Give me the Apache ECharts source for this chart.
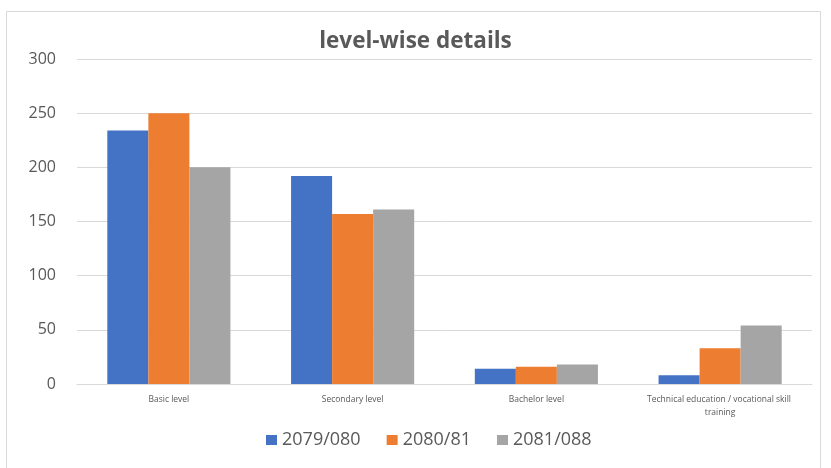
<!DOCTYPE html>
<html>
<head>
<meta charset="utf-8">
<script src="https://cdn.jsdelivr.net/npm/echarts@6/dist/echarts.min.js"></script>
<style>
  html, body { margin: 0; padding: 0; background: #fff; }
  #chart { width: 831px; height: 468px; }
</style>
</head>
<body>
<div id="chart"></div>
<script>
var categories = ['Basic level', 'Secondary level', 'Bachelor level', 'Technical education / vocational skill training'];
var seriesNames = ['2079/080', '2080/81', '2081/088'];
var values2079 = [234, 192, 14, 8];
var values2080 = [250, 157, 16, 33];
var values2081 = [200, 161, 18, 54];
var yTicks = [0, 50, 100, 150, 200, 250, 300];

var colors = ['#4472C4', '#ED7D31', '#A5A5A5'];
var textColor = '#595959';
var font = '"Open Sans", "Noto Sans", sans-serif';

var chart = echarts.init(document.getElementById('chart'));

var option = {
  animation: false,
  backgroundColor: '#fff',
  color: colors,
  graphic: [{
    type: 'rect',
    shape: { x: 6.5, y: 11.5, width: 814, height: 470 },
    style: { fill: 'none', stroke: '#d9d9d9', lineWidth: 1 },
    silent: true
  }],
  title: {
    text: 'level-wise details',
    left: 'center',
    top: 25,
    textStyle: { fontFamily: font, fontSize: 22.5, fontWeight: 'bold', color: textColor }
  },
  legend: {
    data: seriesNames,
    bottom: 14,
    left: 261,
    itemWidth: 11,
    itemHeight: 10,
    itemGap: 26,
    icon: 'rect',
    textStyle: { fontFamily: font, fontSize: 18, color: textColor, padding: [0, 0, 0, 0] }
  },
  grid: { left: 77, right: 19, top: 59, bottom: 84 },
  xAxis: {
    type: 'category',
    data: categories,
    axisLine: { lineStyle: { color: '#d9d9d9' } },
    axisTick: { show: false },
    axisLabel: {
      interval: 0,
      margin: 9,
      width: 168,
      overflow: 'break',
      fontFamily: font,
      fontSize: 8.5,
      lineHeight: 13,
      color: textColor
    }
  },
  yAxis: {
    type: 'value',
    min: yTicks[0],
    max: yTicks[yTicks.length - 1],
    interval: 50,
    axisLine: { show: false },
    axisTick: { show: false },
    splitLine: { lineStyle: { color: '#d9d9d9', width: 1 } },
    axisLabel: { margin: 21, fontFamily: font, fontSize: 16, color: textColor }
  },
  series: [
    { name: seriesNames[0], type: 'bar', data: values2079, barGap: '0%', barCategoryGap: '33%' },
    { name: seriesNames[1], type: 'bar', data: values2080, barGap: '0%', barCategoryGap: '33%' },
    { name: seriesNames[2], type: 'bar', data: values2081, barGap: '0%', barCategoryGap: '33%' }
  ]
};

chart.setOption(option);
</script>
</body>
</html>
